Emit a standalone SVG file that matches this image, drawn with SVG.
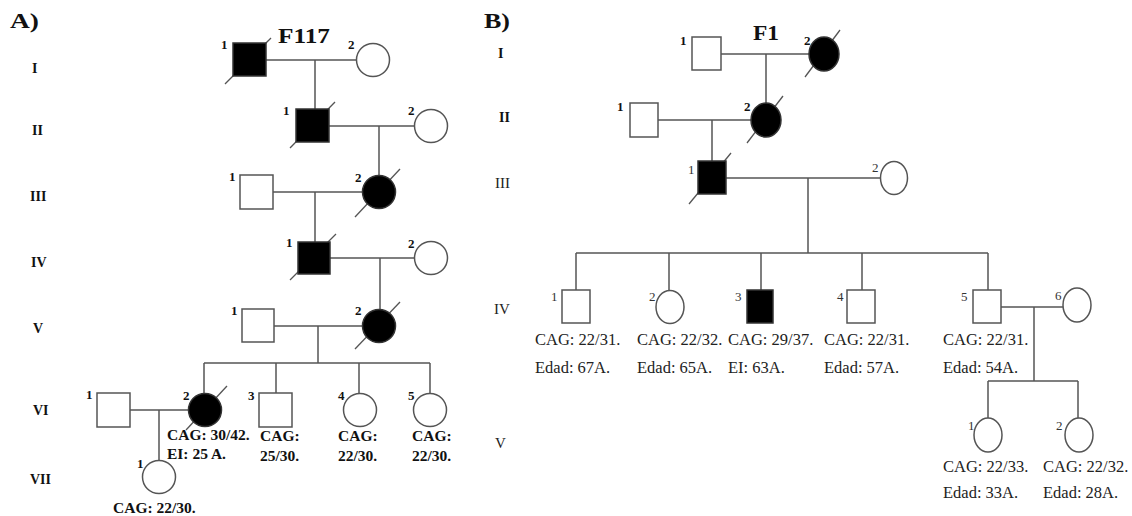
<svg xmlns="http://www.w3.org/2000/svg" width="1132" height="516" viewBox="0 0 1132 516">
<style>
.ln{stroke:#555;stroke-width:1.5;fill:none}
.o{fill:#fff;stroke:#555;stroke-width:1.5}
.f{fill:#000;stroke:#333;stroke-width:1.5}
.sl{stroke:#555;stroke-width:1.3}
.bt{font-family:"Liberation Serif",serif;font-weight:bold;fill:#111}
.rt{font-family:"Liberation Serif",serif;fill:#222}
.gen{font-family:"Liberation Serif",serif;font-weight:bold;font-size:14px;fill:#111}
.nb{font-family:"Liberation Serif",serif;font-weight:bold;font-size:13px;fill:#111}
.nr{font-family:"Liberation Serif",serif;font-size:13px;fill:#333}
.la{font-family:"Liberation Serif",serif;font-weight:bold;font-size:15.5px;fill:#111}
.lb{font-family:"Liberation Serif",serif;font-size:16.5px;fill:#222}
</style>
<rect width="1132" height="516" fill="#fff"/>

<!-- Panel A -->
<text class="bt" x="10" y="28" font-size="20" textLength="29" lengthAdjust="spacingAndGlyphs">A)</text>
<text class="bt" x="278" y="43" font-size="20" textLength="52" lengthAdjust="spacingAndGlyphs">F117</text>
<g id="genA">
<text class="gen" x="32" y="73">I</text>
<text class="gen" x="32" y="135">II</text>
<text class="gen" x="30" y="201">III</text>
<text class="gen" x="31" y="267">IV</text>
<text class="gen" x="33" y="333">V</text>
<text class="gen" x="33" y="415">VI</text>
<text class="gen" x="30" y="484">VII</text>
</g>

<g id="connectors">
<!-- A -->
<path class="ln" d="M266 60H357M315 60V109"/>
<path class="ln" d="M329 126H415M379 126V176"/>
<path class="ln" d="M273 192H363M315 192V242"/>
<path class="ln" d="M330 258H415M380 258V310"/>
<path class="ln" d="M274 326H363M318 326V363M204 363H430M204 363V393M276 363V393M359 363V393M430 363V393"/>
<path class="ln" d="M130 410H188M159 410V460"/>
<!-- B -->
<path class="ln" d="M721 54H809M766 54V103"/>
<path class="ln" d="M658 120H751M712 120V161"/>
<path class="ln" d="M726 178H880M808 178V253M576 253H988M576 253V290M669 253V290M761 253V290M862 253V290M988 253V290"/>
<path class="ln" d="M1001 307H1063M1034 307V381M988 381H1078M988 381V418M1078 381V418"/>
</g>

<g id="A-I-1"><line class="sl" x1="225" y1="84" x2="271" y2="38"/><rect class="f" x="233" y="43" width="33" height="33"/><text class="nb" x="221" y="49">1</text></g>
<g id="A-I-2"><circle class="o" cx="373" cy="60" r="16.5"/><text class="nb" x="348" y="49">2</text></g>
<g id="A-II-1"><line class="sl" x1="290" y1="148" x2="335" y2="102"/><rect class="f" x="296" y="109" width="33" height="33"/><text class="nb" x="283" y="115">1</text></g>
<g id="A-II-2"><circle class="o" cx="431" cy="126" r="16.5"/><text class="nb" x="408" y="115">2</text></g>
<g id="A-III-1"><rect class="o" x="240" y="175" width="33" height="34"/><text class="nb" x="229" y="181">1</text></g>
<g id="A-III-2"><line class="sl" x1="355" y1="217" x2="400" y2="169"/><circle class="f" cx="379" cy="192" r="16.5"/><text class="nb" x="355" y="182">2</text></g>
<g id="A-IV-1"><line class="sl" x1="290" y1="280" x2="336" y2="234"/><rect class="f" x="298" y="242" width="32" height="32"/><text class="nb" x="286" y="247">1</text></g>
<g id="A-IV-2"><circle class="o" cx="431" cy="258" r="16.5"/><text class="nb" x="408" y="248">2</text></g>
<g id="A-V-1"><rect class="o" x="242" y="309" width="32" height="33"/><text class="nb" x="231" y="315">1</text></g>
<g id="A-V-2"><line class="sl" x1="355" y1="349" x2="400" y2="302"/><circle class="f" cx="379" cy="326" r="16.5"/><text class="nb" x="355" y="315">2</text></g>
<g id="A-VI-1"><rect class="o" x="97" y="393" width="33" height="34"/><text class="nb" x="86" y="399">1</text></g>
<g id="A-VI-2"><line class="sl" x1="186" y1="430" x2="227" y2="386"/><circle class="f" cx="205" cy="410" r="16.5"/><text class="nb" x="183" y="400">2</text>
<text class="la" x="167" y="440">CAG: 30/42.</text><text class="la" x="167" y="459">EI: 25 A.</text></g>
<g id="A-VI-3"><rect class="o" x="259" y="393" width="33" height="34"/><text class="nb" x="248" y="400">3</text>
<text class="la" x="260" y="441">CAG:</text><text class="la" x="260" y="461">25/30.</text></g>
<g id="A-VI-4"><circle class="o" cx="360" cy="410" r="16.5"/><text class="nb" x="338" y="400">4</text>
<text class="la" x="338" y="441">CAG:</text><text class="la" x="338" y="461">22/30.</text></g>
<g id="A-VI-5"><circle class="o" cx="430" cy="410" r="16.5"/><text class="nb" x="408" y="400">5</text>
<text class="la" x="412" y="441">CAG:</text><text class="la" x="412" y="461">22/30.</text></g>
<g id="A-VII-1"><circle class="o" cx="159" cy="477" r="16.5"/><text class="nb" x="137" y="468">1</text>
<text class="la" x="113" y="513">CAG: 22/30.</text></g>

<!-- Panel B -->
<text class="bt" x="484" y="28" font-size="20" textLength="26" lengthAdjust="spacingAndGlyphs">B)</text>
<text class="bt" x="753" y="40" font-size="20" textLength="26" lengthAdjust="spacingAndGlyphs">F1</text>
<g id="genB">
<text class="gen" x="498" y="58">I</text>
<text class="gen" x="499" y="122">II</text>
<text class="rt" x="495" y="188" font-size="15">III</text>
<text class="rt" x="494" y="314" font-size="15">IV</text>
<text class="rt" x="495" y="448" font-size="15">V</text>
</g>

<g id="B-I-1"><rect class="o" x="692" y="37" width="29" height="33"/><text class="nb" x="680" y="45">1</text></g>
<g id="B-I-2"><line class="sl" x1="805" y1="77" x2="840" y2="30"/><ellipse class="f" cx="824" cy="54" rx="15" ry="17"/><text class="nb" x="804" y="45">2</text></g>
<g id="B-II-1"><rect class="o" x="630" y="103" width="28" height="34"/><text class="nb" x="617" y="111">1</text></g>
<g id="B-II-2"><line class="sl" x1="747" y1="143" x2="783" y2="96"/><ellipse class="f" cx="766" cy="120" rx="15" ry="17"/><text class="nb" x="744" y="111">2</text></g>
<g id="B-III-1"><line class="sl" x1="689" y1="204" x2="731" y2="153"/><rect class="f" x="698" y="161" width="28" height="33"/><text class="nr" x="688" y="174">1</text></g>
<g id="B-III-2"><ellipse class="o" cx="894" cy="178" rx="13.5" ry="16.5"/><text class="nr" x="872" y="172">2</text></g>

<g id="B-IV-1"><rect class="o" x="562" y="290" width="28" height="33"/><text class="nr" x="551" y="301">1</text>
<text class="lb" x="535" y="345">CAG: 22/31.</text><text class="lb" x="535" y="373">Edad: 67A.</text></g>
<g id="B-IV-2"><ellipse class="o" cx="670" cy="307" rx="14" ry="16.5"/><text class="nr" x="649" y="301">2</text>
<text class="lb" x="637" y="345">CAG: 22/32.</text><text class="lb" x="637" y="373">Edad: 65A.</text></g>
<g id="B-IV-3"><rect class="f" x="747" y="290" width="26" height="33"/><text class="nr" x="735" y="301">3</text>
<text class="lb" x="728" y="345">CAG: 29/37.</text><text class="lb" x="728" y="373">EI: 63A.</text></g>
<g id="B-IV-4"><rect class="o" x="847" y="290" width="28" height="33"/><text class="nr" x="837" y="301">4</text>
<text class="lb" x="824" y="345">CAG: 22/31.</text><text class="lb" x="824" y="373">Edad: 57A.</text></g>
<g id="B-IV-5"><rect class="o" x="973" y="290" width="28" height="33"/><text class="nr" x="961" y="301">5</text>
<text class="lb" x="943" y="345">CAG: 22/31.</text><text class="lb" x="943" y="373">Edad: 54A.</text></g>
<g id="B-IV-6"><ellipse class="o" cx="1077" cy="305" rx="14" ry="17"/><text class="nr" x="1055" y="300">6</text></g>
<g id="B-V-1"><ellipse class="o" cx="988" cy="435" rx="14" ry="17"/><text class="nr" x="968" y="430">1</text>
<text class="lb" x="943" y="472">CAG: 22/33.</text><text class="lb" x="943" y="498">Edad: 33A.</text></g>
<g id="B-V-2"><ellipse class="o" cx="1079" cy="435" rx="14" ry="17"/><text class="nr" x="1056" y="430">2</text>
<text class="lb" x="1043" y="472">CAG: 22/32.</text><text class="lb" x="1043" y="498">Edad: 28A.</text></g>
</svg>
